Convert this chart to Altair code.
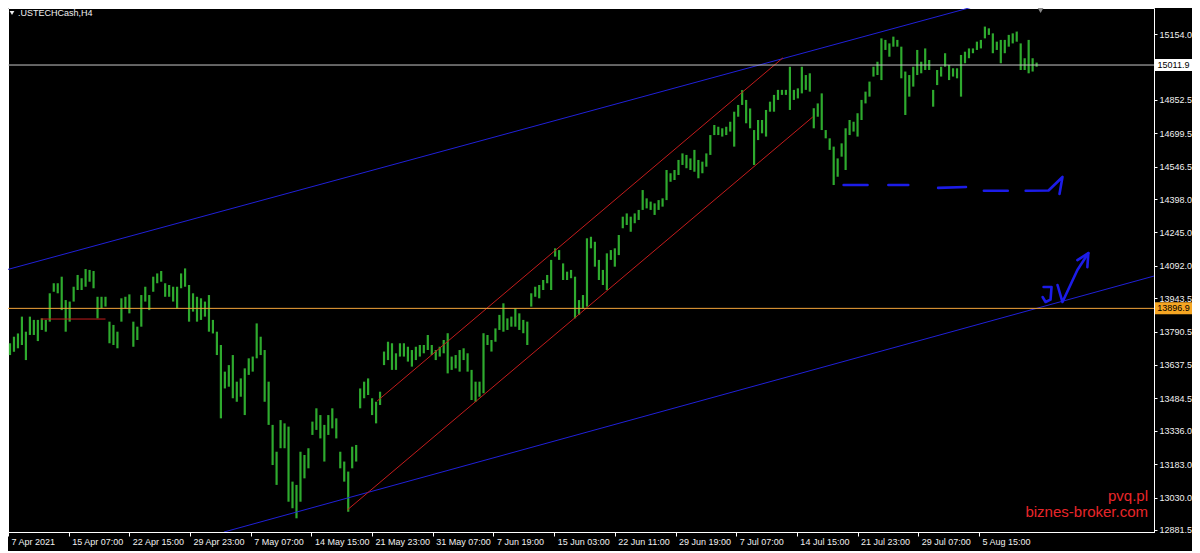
import altair as alt
import pandas as pd

# ---------------- data ----------------
bar_high = [
    13737, 13767, 13782, 13859, 13790, 13859, 13844, 13844, 13851, 13844,
    13966, 14012, 14012, 14042, 13935, 13928, 13996, 14050, 14035, 14077,
    14073, 14068, 13950, 13950, 13950, 13836, 13821, 13790, 13943, 13950,
    13961, 13836, 13813, 13958, 13996, 13958, 14042, 14057, 14068, 14012,
    14004, 13996, 13996, 14057, 14080, 14004, 13966, 13950, 13943, 13928,
    13958, 13844, 13790, 13729, 13607, 13637, 13683, 13561, 13576, 13622,
    13668, 13676, 13828, 13767, 13706, 13561, 13363, 13240, 13385, 13370,
    13355, 13103, 13088, 13240, 13225, 13256, 13378, 13439, 13408, 13363,
    13408, 13439, 13393, 13240, 13195, 13149, 13263, 13271, 13530, 13561,
    13576, 13485, 13469, 13515,
    13699, 13744, 13737, 13691, 13737, 13737, 13721, 13706, 13721, 13729,
    13729, 13775, 13729, 13706, 13721, 13752, 13783, 13676, 13683, 13706,
    13714, 13691, 13615, 13561, 13561, 13783, 13775, 13752, 13805, 13867,
    13920, 13851, 13859, 13897, 13874, 13844, 13836, 13966, 13996, 14004,
    14027, 14050, 14119, 14172, 14164, 14103, 14065, 14073, 14042, 13935,
    13958, 14218, 14225, 14202, 14119, 14073, 14149, 14164, 14172, 14233,
    14317, 14332, 14317, 14332, 14348, 14439, 14401, 14386, 14378, 14393,
    14401, 14531, 14516, 14531, 14577, 14607, 14600, 14584, 14623, 14577,
    14569, 14607, 14691, 14737, 14729, 14722, 14729, 14752, 14798, 14829,
    14897, 14852, 14813, 14714, 14760, 14760, 14806, 14844,
    14875, 14898, 14898, 14898, 15004, 14898, 14905, 15004, 14966, 14974,
    14814, 14836, 14882, 14714, 14676, 14638, 14584, 14653, 14722, 14760,
    14752, 14791, 14852, 14890, 14936, 15004, 15027, 15134, 15127, 15111,
    15142, 15127, 15096, 14982, 14966, 15004, 15081, 15027, 15088, 15035,
    14898, 14989, 15004, 15066, 15012, 14997, 14997, 15058, 15073, 15088,
    15088, 15119, 15127, 15188, 15180, 15157, 15119, 15127, 15127, 15150,
    15157, 15165, 15111, 15043, 15127, 15043, 15023,
]
bar_low = [
    13683, 13698, 13714, 13729, 13660, 13775, 13775, 13747, 13798, 13790,
    13836, 13973, 13966, 13889, 13790, 13836, 13928, 13981, 13981, 13996,
    14019, 13989, 13851, 13897, 13905, 13737, 13729, 13714, 13836, 13897,
    13874, 13721, 13752, 13813, 13928, 13889, 13973, 14012, 14019, 13950,
    13950, 13928, 13897, 13989, 13996, 13836, 13882, 13836, 13844, 13859,
    13790, 13782, 13683, 13393, 13530, 13538, 13485, 13469, 13492, 13408,
    13592, 13607, 13668, 13683, 13469, 13363, 13179, 13088, 13256, 13256,
    13011, 12981, 12935, 13011, 13118, 13164, 13317, 13340, 13301, 13195,
    13317, 13347, 13301, 13164, 13103, 12965, 13164, 13195, 13439, 13485,
    13500, 13408, 13370, 13454,
    13637, 13660, 13615, 13615, 13676, 13676, 13653, 13630, 13660, 13676,
    13691, 13706, 13683, 13660, 13676, 13691, 13599, 13615, 13622, 13607,
    13660, 13607, 13477, 13469, 13492, 13508, 13729, 13699, 13744, 13798,
    13790, 13798, 13813, 13813, 13798, 13783, 13729, 13905, 13950, 13943,
    13981, 14012, 13981, 14134, 14119, 14027, 14027, 14035, 13851, 13867,
    13897, 13905, 14172, 14088, 14027, 14004, 13981, 14119, 14088, 14141,
    14264, 14279, 14248, 14287, 14302, 14348, 14355, 14348, 14325, 14348,
    14363, 14393, 14477, 14485, 14508, 14554, 14539, 14531, 14523, 14493,
    14516, 14546, 14600, 14691, 14691, 14684, 14691, 14707, 14638, 14775,
    14829, 14745, 14722, 14554, 14668, 14699, 14684, 14798,
    14798, 14852, 14875, 14875, 14806, 14852, 14859, 14882, 14898, 14890,
    14722, 14775, 14714, 14676, 14623, 14462, 14500, 14592, 14531, 14691,
    14707, 14684, 14760, 14836, 14867, 14959, 14966, 14943, 15081, 15050,
    15096, 15096, 14951, 14783, 14867, 14913, 14966, 14974, 14989, 14989,
    14821, 14920, 14959, 15004, 14943, 14959, 14951, 14867, 15020, 15043,
    15066, 15081, 15088, 15134, 15150, 15066, 15081, 15020, 15066, 15096,
    15111, 15119, 14989, 14989, 14974, 14982, 15004,
]

time_tick_bars = [0, 30.5, 61, 91.5, 122, 152.5, 183, 213.5, 244, 274.5,
                  305, 335.5, 366, 396.5, 427, 457.5, 488]
time_tick_labels = ["7 Apr 2021", "15 Apr 07:00", "22 Apr 15:00", "29 Apr 23:00",
                    "7 May 07:00", "14 May 15:00", "21 May 23:00", "31 May 07:00",
                    "7 Jun 19:00", "15 Jun 03:00", "22 Jun 11:00", "29 Jun 19:00",
                    "7 Jul 07:00", "14 Jul 15:00", "21 Jul 23:00", "29 Jul 07:00",
                    "5 Aug 15:00"]
price_ticks = [15154.0, 14852.5, 14699.5, 14546.5, 14398.0, 14245.0, 14092.0,
               13943.5, 13790.5, 13637.5, 13484.5, 13336.0, 13183.0, 13030.0, 12881.5]

last_price = 15011.9
level_price = 13896.9

# trend lines (bar, price) -> (bar, price)
blue_x1 = [-1, 108.5]
blue_p1 = [14073, 12872]
blue_x2 = [576, 576]
blue_p2 = [15504, 14045]

red_x1 = [185.5, 170.5, 16.5]
red_p1 = [13472, 12973, 13848]
red_x2 = [389.5, 404.5, 49]
red_p2 = [15045, 14774, 13848]

# hand-drawn annotations: stroke id, bar, price
sketch_id = ["d1", "d1", "d2", "d2", "d3", "d3", "d4", "d4",
             "d5", "d5", "d5", "d5",
             "j", "j", "j", "j", "j",
             "v", "v", "v", "v",
             "h", "h", "h"]
sketch_bar = [420, 432, 442.5, 452.5, 467.5, 481.5, 490.5, 502.5,
              511.5, 523, 530, 528.5,
              520.5, 524.5, 524, 521.5, 520,
              527.5, 530, 537.5, 543,
              537.5, 543, 542.5]
sketch_price = [14462, 14462, 14462, 14462, 14449, 14453, 14436, 14436,
                14436, 14437, 14499, 14421,
                13995, 13995, 13937, 13926, 13949,
                14004, 13926, 14073, 14150,
                14118, 14150, 14086]

symbol_name = ".USTECHCash,H4"
watermark_1 = "pvq.pl"
watermark_2 = "biznes-broker.com"

# ---------------- tables ----------------
bars_df = pd.DataFrame({
    "bar": [2 * i + 1 for i in range(len(bar_high))],
    "high": bar_high,
    "low": bar_low,
})
blue_df = pd.DataFrame({"bar": blue_x1, "bar2": blue_x2, "price": blue_p1, "price2": blue_p2})
red_df = pd.DataFrame({"bar": red_x1, "bar2": red_x2, "price": red_p1, "price2": red_p2})
sketch_df = pd.DataFrame({"stroke": sketch_id, "bar": sketch_bar, "price": sketch_price,
                          "seq": list(range(len(sketch_id)))})
last_df = pd.DataFrame({"price": [last_price]})
level_df = pd.DataFrame({"price": [level_price]})

xs = alt.Scale(domain=[0, 576], nice=False, zero=False)
ys = alt.Scale(domain=[12872.2, 15273.2], nice=False, zero=False)

FONT = "Liberation Sans"
label_expr = ("[" + ",".join("'%s'" % s for s in time_tick_labels) + "][indexof(["
              + ",".join(str(v) for v in time_tick_bars) + "], datum.value)]")

x_axis = alt.Axis(values=time_tick_bars, labelExpr=label_expr, title=None, grid=False,
                  labelAlign="left", labelBaseline="top", labelOffset=3, labelPadding=1,
                  labelFlush=False, labelOverlap=False, tickSize=4,
                  labelColor="#f0f0f0", labelFont=FONT, labelFontSize=9,
                  tickColor="#ffffff", domainColor="#ffffff")
y_axis = alt.Axis(orient="right", values=price_ticks, format=".1f", title=None, grid=False,
                  labelAlign="left", labelBaseline="middle", labelPadding=2, tickSize=3,
                  labelFlush=False, labelOverlap=False,
                  labelColor="#f0f0f0", labelFont=FONT, labelFontSize=9,
                  tickColor="#ffffff", domainColor="#ffffff")


def X(field):
    return alt.X(field, type="quantitative", scale=xs, axis=x_axis)


def Y(field):
    return alt.Y(field, type="quantitative", scale=ys, axis=y_axis)


bars = alt.Chart(bars_df).mark_rule(color="#2eaa2e", strokeWidth=2.2).encode(
    x=X("bar"), y=Y("low"), y2="high:Q",
)

blue_lines = alt.Chart(blue_df).mark_rule(color="#2020d8", strokeWidth=1, clip=True).encode(
    x=X("bar"), x2="bar2:Q", y=Y("price"), y2="price2:Q",
)
red_lines = alt.Chart(red_df).mark_rule(color="#c41c1c", strokeWidth=1, clip=True).encode(
    x=X("bar"), x2="bar2:Q", y=Y("price"), y2="price2:Q",
)
level_line = alt.Chart(level_df).mark_rule(color="#f2a43a", strokeWidth=1).encode(y=Y("price"))
last_line = alt.Chart(last_df).mark_rule(color="#c8c8c8", strokeWidth=1).encode(y=Y("price"))

sketch = alt.Chart(sketch_df).mark_line(color="#1c1ce8", strokeWidth=2.6,
                                        strokeCap="round", strokeJoin="round").encode(
    x=X("bar"), y=Y("price"), detail="stroke:N", order="seq:Q",
)

BOX_X = 1165.5
box_shape = "M-1,-0.324L1,-0.324L1,0.324L-1,0.324Z"
last_box = alt.Chart(last_df).mark_point(shape=box_shape, size=1369, filled=True, opacity=1,
                                         color="#ffffff", strokeWidth=0).encode(
    x=alt.value(BOX_X), y=Y("price"))
last_txt = alt.Chart(last_df).mark_text(font=FONT, fontSize=9, color="#000000",
                                        align="center", baseline="middle").encode(
    x=alt.value(BOX_X), y=Y("price"), text=alt.Text("price:Q", format=".1f"))
level_box = alt.Chart(level_df).mark_point(shape=box_shape, size=1369, filled=True, opacity=1,
                                           color="#f5a623", strokeWidth=0).encode(
    x=alt.value(BOX_X), y=Y("price"))
level_txt = alt.Chart(level_df).mark_text(font=FONT, fontSize=9, color="#000000",
                                          align="center", baseline="middle").encode(
    x=alt.value(BOX_X), y=Y("price"), text=alt.Text("price:Q", format=".1f"))

title_df = pd.DataFrame({"t": [symbol_name]})
title_txt = alt.Chart(title_df).mark_text(font=FONT, fontSize=9, color="#f0f0f0",
                                          align="left", baseline="top").encode(
    x=alt.value(10), y=alt.value(1), text="t:N")
title_tri = alt.Chart(title_df).mark_point(shape="triangle-down", filled=True, size=22,
                                           color="#f0f0f0", opacity=1).encode(
    x=alt.value(4), y=alt.value(5))
shift_df = pd.DataFrame({"bar": [519]})
shift_tri = alt.Chart(shift_df).mark_point(shape="triangle-down", filled=True, size=45,
                                           color="#8a8a8a", opacity=1).encode(
    x=X("bar"), y=alt.value(2))

wm_df = pd.DataFrame({"a": [watermark_1], "b": [watermark_2]})
wm1 = alt.Chart(wm_df).mark_text(font=FONT, fontSize=15, color="#e8262a",
                                 align="right", baseline="alphabetic").encode(
    x=alt.value(1140), y=alt.value(493), text="a:N")
wm2 = alt.Chart(wm_df).mark_text(font=FONT, fontSize=15, color="#e8262a",
                                 align="right", baseline="alphabetic").encode(
    x=alt.value(1140), y=alt.value(509), text="b:N")

chart = alt.layer(
    bars, blue_lines, red_lines, level_line, last_line, sketch,
    wm1, wm2, title_tri, title_txt, shift_tri,
    last_box, last_txt, level_box, level_txt,
).properties(
    width=1146, height=524,
    autosize=alt.AutoSizeParams(type="none"),
    padding={"left": 0, "top": 0, "right": 38, "bottom": 19},
    background="#000000",
).configure_view(
    stroke="#ffffff", strokeWidth=1, fill="#000000",
)

chart.save("out.html", embed_options={"renderer": "svg", "actions": False})
